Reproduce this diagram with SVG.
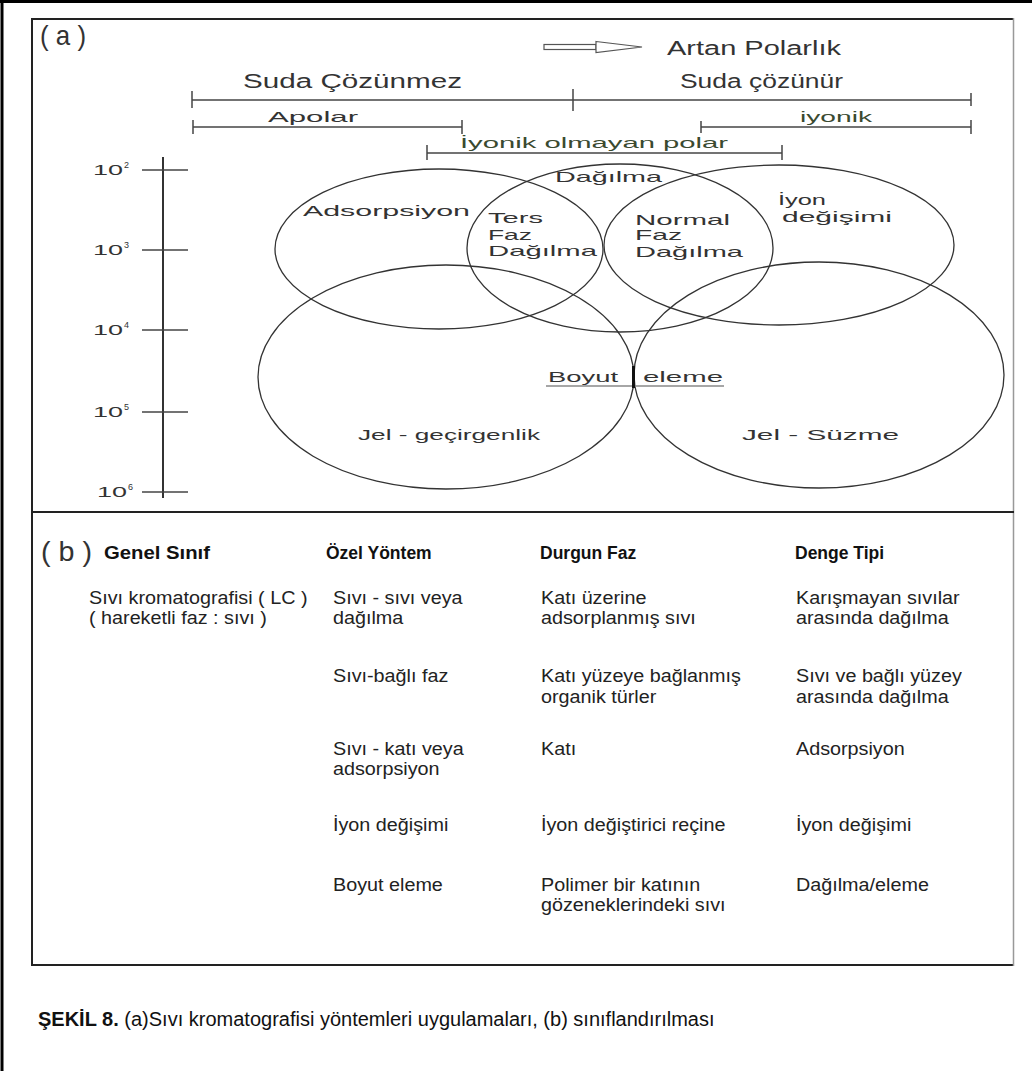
<svg xmlns="http://www.w3.org/2000/svg" width="1032" height="1071" viewBox="0 0 1032 1071">
<defs>
<style>
.lbl{font-family:"Liberation Sans",Arial,sans-serif;fill:#333;}
.a{font-size:15px;}
.big{font-size:20px;}
.t{font-family:"Liberation Sans",Arial,sans-serif;font-size:17.5px;fill:#222;}
.h{font-family:"Liberation Sans",Arial,sans-serif;font-size:17.5px;font-weight:bold;fill:#111;}
.ell{fill:none;stroke:#333;stroke-width:1.3;}
.rng{stroke:#444;stroke-width:1.5;fill:none;}
.tick{stroke:#444;stroke-width:1.5;}
.ax{stroke:#333;stroke-width:2;}
</style>
</defs>
<rect width="1032" height="1071" fill="#fff"/>
<!-- outer frame -->
<line x1="0" y1="1.5" x2="1032" y2="1.5" stroke="#000" stroke-width="3"/>
<line x1="2" y1="0" x2="2" y2="1071" stroke="#000" stroke-width="3"/>
<!-- inner box -->
<g id="box">
<line x1="32" y1="19" x2="1014" y2="19" stroke="#222" stroke-width="2"/>
<line x1="32" y1="18" x2="32" y2="966" stroke="#222" stroke-width="2"/>
<line x1="32" y1="965" x2="1014" y2="965" stroke="#222" stroke-width="2"/>
<line x1="1013.5" y1="18" x2="1013.5" y2="966" stroke="#999" stroke-width="1.5"/>
<line x1="32" y1="512" x2="1014" y2="512" stroke="#222" stroke-width="2"/>
</g>
<!-- part labels -->
<text class="lbl" x="40" y="45" font-size="28" textLength="46" lengthAdjust="spacingAndGlyphs">( a )</text>
<text class="lbl" x="41" y="561" font-size="28" textLength="51" lengthAdjust="spacingAndGlyphs">( b )</text>

<g id="connectors">
<!-- polarity arrow -->
<g id="arrow">
<rect x="544" y="44.5" width="52" height="5" fill="#fff" stroke="#555" stroke-width="1.2"/>
<polygon points="596,41.5 642,47 596,52.5" fill="#fff" stroke="#555" stroke-width="1.2"/>
</g>
<!-- range bars -->
<line class="rng" x1="192" y1="100" x2="971" y2="100"/>
<line class="tick" x1="192" y1="91" x2="192" y2="108"/>
<line class="tick" x1="573" y1="89" x2="573" y2="111"/>
<line class="tick" x1="971" y1="93" x2="971" y2="106"/>
<line class="rng" x1="193" y1="127" x2="462" y2="127"/>
<line class="tick" x1="193" y1="120" x2="193" y2="134"/>
<line class="tick" x1="462" y1="120" x2="462" y2="134"/>
<line class="rng" x1="701" y1="127" x2="971" y2="127"/>
<line class="tick" x1="701" y1="121" x2="701" y2="133"/>
<line class="tick" x1="971" y1="120" x2="971" y2="134"/>
<line class="rng" x1="427" y1="153" x2="782" y2="153"/>
<line class="tick" x1="427" y1="145" x2="427" y2="160"/>
<line class="tick" x1="782" y1="145" x2="782" y2="160"/>
<!-- y axis -->
<line class="ax" x1="163" y1="157" x2="163" y2="498"/>
<line class="tick" x1="142" y1="170" x2="188" y2="170"/>
<line class="tick" x1="142" y1="250" x2="188" y2="250"/>
<line class="tick" x1="142" y1="330" x2="188" y2="330"/>
<line class="tick" x1="142" y1="412" x2="188" y2="412"/>
<line class="tick" x1="142" y1="492" x2="188" y2="492"/>
</g>

<g id="scale-labels" class="lbl" font-size="15">
<text x="93" y="175" textLength="30" lengthAdjust="spacingAndGlyphs">10</text><text x="124" y="168" font-size="9">2</text>
<text x="93" y="255" textLength="30" lengthAdjust="spacingAndGlyphs">10</text><text x="124" y="248" font-size="9">3</text>
<text x="93" y="335" textLength="30" lengthAdjust="spacingAndGlyphs">10</text><text x="124" y="328" font-size="9">4</text>
<text x="93" y="417" textLength="30" lengthAdjust="spacingAndGlyphs">10</text><text x="124" y="410" font-size="9">5</text>
<text x="97" y="497" textLength="30" lengthAdjust="spacingAndGlyphs">10</text><text x="128" y="490" font-size="9">6</text>
</g>

<g id="polarity-labels" class="lbl">
<text class="big" x="667" y="55" textLength="174" lengthAdjust="spacingAndGlyphs">Artan Polarlık</text>
<text class="big" x="243" y="88" textLength="219" lengthAdjust="spacingAndGlyphs">Suda Çözünmez</text>
<text class="big" x="680" y="88" textLength="163" lengthAdjust="spacingAndGlyphs">Suda çözünür</text>
<text class="a" x="268" y="122" textLength="90" lengthAdjust="spacingAndGlyphs">Apolar</text>
<text class="a" x="800" y="122" textLength="72" lengthAdjust="spacingAndGlyphs" fill="#3a4a30">iyonik</text>
<text class="a" x="460" y="148" textLength="268" lengthAdjust="spacingAndGlyphs" fill="#3a4a30">İyonik olmayan polar</text>
</g>

<g id="adsorpsiyon">
<ellipse class="ell" cx="439" cy="249" rx="164" ry="80"/>
<text class="lbl a" x="303" y="216" textLength="167" lengthAdjust="spacingAndGlyphs">Adsorpsiyon</text>
</g>
<g id="dagilma">
<ellipse class="ell" cx="620" cy="248" rx="153" ry="84"/>
<text class="lbl a" x="555" y="182" textLength="107" lengthAdjust="spacingAndGlyphs" fill="#5a3030">Dağılma</text>
</g>
<g id="iyon-degisimi">
<ellipse class="ell" cx="779" cy="245" rx="175" ry="80"/>
<text class="lbl a" x="778" y="205" textLength="48" lengthAdjust="spacingAndGlyphs">İyon</text>
<text class="lbl a" x="782" y="222" textLength="110" lengthAdjust="spacingAndGlyphs">değişimi</text>
</g>
<g id="ters-faz">
<text class="lbl a" x="488" y="223" textLength="55" lengthAdjust="spacingAndGlyphs" fill="#2f5a3a">Ters</text>
<text class="lbl a" x="488" y="240" textLength="44" lengthAdjust="spacingAndGlyphs">Faz</text>
<text class="lbl a" x="488" y="256" textLength="109" lengthAdjust="spacingAndGlyphs" fill="#3a3350">Dağılma</text>
</g>
<g id="normal-faz">
<text class="lbl a" x="635" y="225" textLength="95" lengthAdjust="spacingAndGlyphs" fill="#3a3350">Normal</text>
<text class="lbl a" x="635" y="240" textLength="47" lengthAdjust="spacingAndGlyphs">Faz</text>
<text class="lbl a" x="635" y="257" textLength="108" lengthAdjust="spacingAndGlyphs">Dağılma</text>
</g>
<g id="jel-gecirgenlik">
<ellipse class="ell" cx="446" cy="377" rx="188" ry="112"/>
<text class="lbl a" x="358" y="440" textLength="182" lengthAdjust="spacingAndGlyphs">Jel - geçirgenlik</text>
</g>
<g id="jel-suzme">
<ellipse class="ell" cx="819" cy="375" rx="185" ry="113"/>
<text class="lbl a" x="742" y="440" textLength="157" lengthAdjust="spacingAndGlyphs">Jel - Süzme</text>
</g>
<g id="boyut-eleme">
<text class="lbl a" x="548" y="382" textLength="70" lengthAdjust="spacingAndGlyphs" fill="#353550">Boyut</text>
<text class="lbl a" x="643" y="382" textLength="80" lengthAdjust="spacingAndGlyphs" fill="#2f4a40">eleme</text>
<line x1="546" y1="386" x2="724" y2="386" stroke="#888" stroke-width="1.5"/>
<line x1="633.5" y1="366" x2="633.5" y2="388" stroke="#111" stroke-width="3"/>
</g>

<!-- part b table -->
<g id="header">
<text class="h" x="104" y="559" textLength="106" lengthAdjust="spacingAndGlyphs">Genel Sınıf</text>
<text class="h" x="326" y="559">Özel Yöntem</text>
<text class="h" x="540" y="559">Durgun Faz</text>
<text class="h" x="795" y="559">Denge Tipi</text>
</g>
<g id="genel-sinif" transform="translate(89,0) scale(1.13,1)">
<text class="t" x="0" y="604">Sıvı kromatografisi ( LC )</text>
<text class="t" x="0" y="624">( hareketli faz : sıvı )</text>
</g>
<g id="ozel-yontem" transform="translate(333,0) scale(1.13,1)">
<text class="t" x="0" y="604">Sıvı - sıvı veya</text>
<text class="t" x="0" y="624">dağılma</text>
<text class="t" x="0" y="682">Sıvı-bağlı faz</text>
<text class="t" x="0" y="755">Sıvı - katı veya</text>
<text class="t" x="0" y="775">adsorpsiyon</text>
<text class="t" x="0" y="831">İyon değişimi</text>
<text class="t" x="0" y="891">Boyut eleme</text>
</g>
<g id="durgun-faz" transform="translate(541,0) scale(1.13,1)">
<text class="t" x="0" y="604">Katı üzerine</text>
<text class="t" x="0" y="624">adsorplanmış sıvı</text>
<text class="t" x="0" y="682">Katı yüzeye bağlanmış</text>
<text class="t" x="0" y="703">organik türler</text>
<text class="t" x="0" y="755">Katı</text>
<text class="t" x="0" y="831">İyon değiştirici reçine</text>
<text class="t" x="0" y="891">Polimer bir katının</text>
<text class="t" x="0" y="911">gözeneklerindeki sıvı</text>
</g>
<g id="denge-tipi" transform="translate(796,0) scale(1.13,1)">
<text class="t" x="0" y="604">Karışmayan sıvılar</text>
<text class="t" x="0" y="624">arasında dağılma</text>
<text class="t" x="0" y="682">Sıvı ve bağlı yüzey</text>
<text class="t" x="0" y="703">arasında dağılma</text>
<text class="t" x="0" y="755">Adsorpsiyon</text>
<text class="t" x="0" y="831">İyon değişimi</text>
<text class="t" x="0" y="891">Dağılma/eleme</text>
</g>

<g id="caption" font-family="'Liberation Sans',Arial,sans-serif" font-size="20" fill="#111">
<text x="38" y="1026"><tspan font-weight="bold">ŞEKİL 8.</tspan> (a)Sıvı kromatografisi yöntemleri uygulamaları, (b) sınıflandırılması</text>
</g>
</svg>
